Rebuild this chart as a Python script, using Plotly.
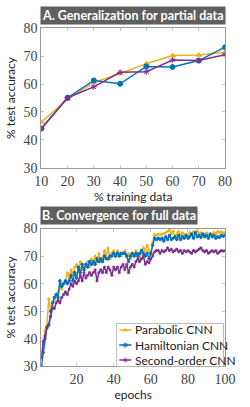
import plotly.graph_objects as go

# ---- Panel A data ----
train_pct = [10, 20, 30, 40, 50, 60, 70, 80]
a_parabolic = [46.4, 54.6, 60.6, 63.8, 67.3, 70.2, 70.4, 71.4]
a_hamiltonian = [44.1, 55.1, 61.3, 60.1, 66.3, 66.1, 68.4, 73.2]
a_second = [44.0, 55.1, 59.0, 64.2, 64.4, 68.6, 68.4, 70.5]

# ---- Panel B data ----
epochs = list(range(1, 101))
b_parabolic = [33, 38, 43, 45, 54.5, 50, 52, 54, 56, 57,
               59, 58, 60, 61, 64, 62, 65, 63, 66, 67,
               64, 68, 66, 65, 67, 68, 66, 69, 67, 70,
               68, 71, 68, 69, 72, 70, 73, 69, 71, 72,
               70, 72, 71, 70, 71, 72, 70, 71, 69, 71,
               70, 72, 71, 69, 72, 73, 72, 74, 72, 71,
               75, 78, 77.5, 78, 77.8, 78, 78.2, 78.5, 79, 79.5,
               78, 79, 77, 78, 79, 77.5, 78.5, 77.8, 78, 77,
               78.5, 78, 79, 78, 79.2, 78, 78.5, 77.8, 78, 78.5,
               77.2, 78, 77.5, 78.6, 78, 79, 78.5, 78.8, 78.4, 78.6]
b_hamiltonian = [30, 35, 40, 44, 45, 50, 53, 55, 56, 55,
                 61, 59, 60, 61, 60, 61, 63, 61, 64, 62,
                 66, 64, 67, 65, 67, 66, 68, 67, 68, 67,
                 69, 68, 69, 68, 70, 69, 69, 70, 70, 71,
                 70, 71, 70, 71, 71, 71, 70, 68, 70, 71,
                 70, 71, 70, 71, 72, 71, 70, 71, 69, 71,
                 74, 76.5, 76, 76.5, 76, 76.5, 75.5, 77, 76, 77.5,
                 76, 76.5, 77, 76, 77.5, 76, 77, 76.5, 77.5, 76.5,
                 77, 78, 76.5, 78.5, 77, 77.5, 76.8, 78, 77, 77.5,
                 76.5, 78, 77, 77.5, 76.5, 77, 76.8, 77.5, 77.2, 77.6]
b_second = [33, 39, 41, 44, 45, 48, 51, 51, 53, 54,
            53, 55, 56, 57, 56, 58, 60, 59, 61, 60,
            61, 63, 61, 64, 62, 63, 64, 63, 64, 65,
            61, 64, 65, 64, 66, 64, 66, 65, 63, 66,
            65, 66, 64, 66, 67, 65, 67, 64, 66, 67,
            66, 68, 69, 68, 69, 70, 67, 68, 67.5, 69,
            70, 71.5, 72, 72, 71, 72, 71.5, 72, 73, 72,
            72.5, 71.5, 72, 72.5, 71.5, 72, 71, 72, 71.5, 72,
            71.5, 71, 72, 71.5, 72, 72.5, 73, 72, 71.5, 72,
            71, 71.5, 72, 71.5, 72, 71, 71.5, 72, 71.8, 72]

names = ["Parabolic CNN", "Hamiltonian CNN", "Second-order CNN"]
colors = ["#EDB120", "#0072BD", "#7E2F8E"]
symbols = ["triangle-up", "circle", "asterisk"]

W, H = 250, 407
def px_x(p): return p / W
def px_y(p): return 1 - p / H

fig = go.Figure()
for nm, col, sym, ys in zip(names, colors, symbols, [a_parabolic, a_hamiltonian, a_second]):
    fig.add_trace(go.Scatter(x=train_pct, y=ys, mode="lines+markers", name=nm,
                             line=dict(color=col, width=1.5),
                             marker=dict(symbol=sym, size=5, color=col,
                                         line=dict(color=col, width=1)),
                             xaxis="x", yaxis="y", showlegend=False))
for nm, col, sym, ys in zip(names, colors, symbols, [b_parabolic, b_hamiltonian, b_second]):
    fig.add_trace(go.Scatter(x=epochs, y=ys, mode="lines+markers", name=nm,
                             line=dict(color=col, width=1.5),
                             marker=dict(symbol=sym, size=2.5, color=col,
                                         line=dict(color=col, width=1)),
                             xaxis="x2", yaxis="y2", showlegend=False))

# ---- compact legend (pgfplots style) on a hidden overlay axis in pixel units ----
LEG_FONT = 12
row_gap = 1.3 * LEG_FONT          # plotly line spacing for multi-line text
row_y = [22 - row_gap, 22, 22 + row_gap]
for ry, col, sym in zip(row_y, colors, symbols):
    fig.add_trace(go.Scatter(x=[3, 9.5, 16], y=[ry, ry, ry], mode="lines+markers",
                             line=dict(color=col, width=1.5),
                             marker=dict(symbol=sym, size=[0, 4, 0], color=col,
                                         line=dict(color=col, width=1)),
                             xaxis="x3", yaxis="y3", showlegend=False, hoverinfo="skip"))

tickfont = dict(family="Liberation Serif", size=14, color="#444")
titlefont = dict(family="Lato", size=12, color="#222")
axis_common = dict(showline=True, linecolor="#999", linewidth=1, mirror="ticks",
                   ticks="inside", ticklen=3, tickcolor="#c8c8c8", showgrid=False,
                   zeroline=False, tickfont=tickfont)

annotations = [
    dict(text="<br>".join(names), x=19, y=22, xref="x3", yref="y3", showarrow=False,
         xanchor="left", yanchor="middle", align="left", borderpad=0,
         font=dict(family="Lato", size=LEG_FONT, color="#222")),
    dict(text="<b>A. Generalization for partial data</b>", x=px_x(136), y=px_y(9),
         xref="paper", yref="paper", showarrow=False, xanchor="center", yanchor="middle",
         bgcolor="#5f5f5f", font=dict(family="Lato", size=12.5, color="white"),
         borderpad=1),
    dict(text="<b>B. Convergence for full data</b>", x=px_x(120.5), y=px_y(216),
         xref="paper", yref="paper", showarrow=False, xanchor="center", yanchor="middle",
         bgcolor="#5f5f5f", font=dict(family="Lato", size=12.5, color="white"),
         borderpad=1),
]

fig.update_layout(
    width=W, height=H, autosize=False,
    margin=dict(l=0, r=0, t=0, b=0),
    paper_bgcolor="white", plot_bgcolor="white",
    showlegend=False,
    xaxis=dict(domain=[px_x(37), px_x(235)], anchor="y", range=[10, 80],
               tickvals=[10, 20, 30, 40, 50, 60, 70, 80],
               title=dict(text="% training data", font=titlefont, standoff=0),
               **axis_common),
    yaxis=dict(domain=[px_y(167), px_y(22)], anchor="x", range=[30, 80],
               tickvals=[30, 40, 50, 60, 70, 80],
               title=dict(text="% test accuracy", font=titlefont, standoff=5),
               **axis_common),
    xaxis2=dict(domain=[px_x(37), px_x(235)], anchor="y2", range=[1, 100],
                tickvals=[20, 40, 60, 80, 100],
                title=dict(text="epochs", font=titlefont, standoff=0),
                **axis_common),
    yaxis2=dict(domain=[px_y(373), px_y(230)], anchor="x2", range=[30, 80],
                tickvals=[30, 40, 50, 60, 70, 80],
                title=dict(text="% test accuracy", font=titlefont, standoff=5),
                **axis_common),
    # overlay axis for legend, in pixels: box 118..233 wide, 329..373 tall
    xaxis3=dict(domain=[px_x(118), px_x(233)], anchor="y3", range=[0, 115],
                visible=False, fixedrange=True),
    yaxis3=dict(domain=[px_y(373), px_y(329)], anchor="x3", range=[44, 0],
                visible=False, fixedrange=True),
    shapes=[dict(type="rect", xref="paper", yref="paper",
                 x0=px_x(118), x1=px_x(233), y0=px_y(373), y1=px_y(329),
                 line=dict(color="#888", width=1), fillcolor="white", layer="below")],
    annotations=annotations,
)

fig.write_html("out.html", config={"displayModeBar": False, "staticPlot": True},
               post_script="document.body.style.margin='0';document.body.style.overflow='hidden';")
